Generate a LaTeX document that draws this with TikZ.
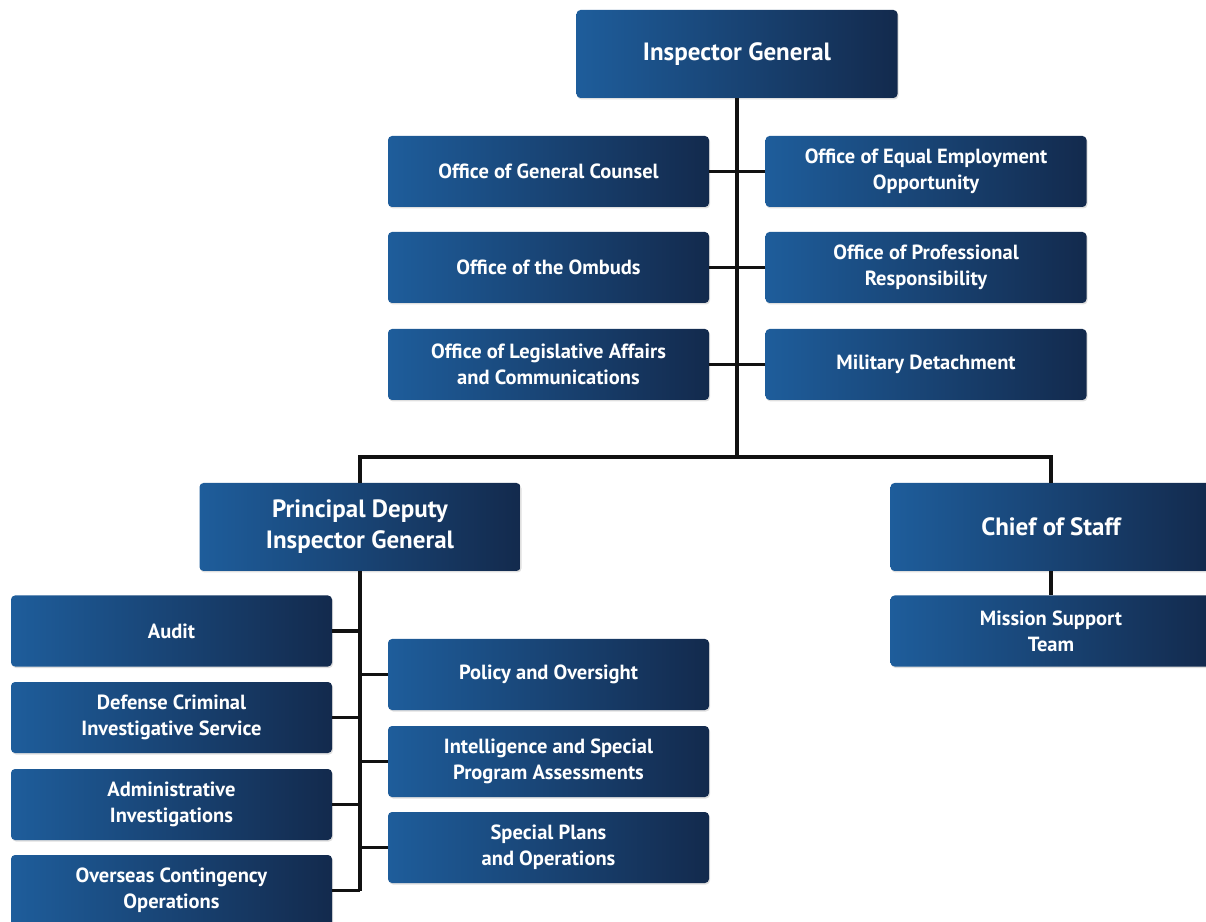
\documentclass[tikz,border=0pt]{standalone}
\usepackage{fontspec}
\setmainfont{PT Sans}
\usetikzlibrary{positioning,shadows}
\definecolor{deptblue}{HTML}{1E5D9B}
\definecolor{deptnavy}{HTML}{132A4D}
\definecolor{linkgray}{HTML}{111111}
\tikzset{
  unit/.style={rectangle,rounded corners=4pt,left color=deptblue,right color=deptnavy,
    draw=none,text=white,align=center,font=\fontsize{20.5}{26}\selectfont\bfseries,
    minimum width=321pt,minimum height=71pt,inner sep=4pt,
    drop shadow={opacity=0.25,shadow xshift=1pt,shadow yshift=-1.5pt}},
  bigunit/.style={unit,minimum height=88pt,font=\fontsize{25}{31}\selectfont\bfseries},
  link/.style={draw=linkgray,line width=3.4pt}
}

\begin{document}
\begin{tikzpicture}[x=1pt,y=1pt]
  \useasboundingbox (0,0) rectangle (1206,921);
  \clip (0,0) rectangle (1206,921);
  % top level
  \node[bigunit] (ig) at (737,867) {Inspector General};
  \node[unit] (ogc) at (548.5,749.5) {Office of General Counsel};
  \node[unit] (oeeo) at (926,749.5) {Office of Equal Employment\\Opportunity};
  \node[unit] (omb) at (548.5,653.5) {Office of the Ombuds};
  \node[unit] (opr) at (926,653.5) {Office of Professional\\Responsibility};
  \node[unit] (olac) at (548.5,556.5) {Office of Legislative Affairs\\and Communications};
  \node[unit] (md) at (926,556.5) {Military Detachment};
  \coordinate (split) at (737,464);
  % second level
  \node[bigunit] (pdig) at (360,394) {Principal Deputy\\Inspector General};
  \node[bigunit] (cos) at (1051,394) {Chief of Staff};
  \node[unit] (mst) at (1051,290) {Mission Support\\Team};
  % components
  \node[unit] (audit) at (171.5,290) {Audit};
  \node[unit] (dcis) at (171.5,203.5) {Defense Criminal\\Investigative Service};
  \node[unit] (ai) at (171.5,116.5) {Administrative\\Investigations};
  \node[unit] (oco) at (171.5,30.5) {Overseas Contingency\\Operations};
  \node[unit] (po) at (548.5,246.5) {Policy and Oversight};
  \node[unit] (ispa) at (548.5,159.5) {Intelligence and Special\\Program Assessments};
  \node[unit] (spo) at (548.5,73.5) {Special Plans\\and Operations};
  % connectors
  \draw[link] (ig.south) -- (split);
  \draw[link] (pdig.north) |- (split);
  \draw[link] (cos.north) |- (split);
  \foreach \n in {ogc,omb,olac} \draw[link] (\n.east) -- (\n.east -| ig.south);
  \foreach \n in {oeeo,opr,md} \draw[link] (\n.west) -- (\n.west -| ig.south);
  \draw[link] (cos.south) -- (mst.north);
  \draw[link] (pdig.south) -- (pdig.south |- oco.east);
  \foreach \n in {audit,dcis,ai,oco} \draw[link] (\n.east) -- (\n.east -| pdig.south);
  \foreach \n in {po,ispa,spo} \draw[link] (\n.west) -- (\n.west -| pdig.south);
\end{tikzpicture}
\end{document}
